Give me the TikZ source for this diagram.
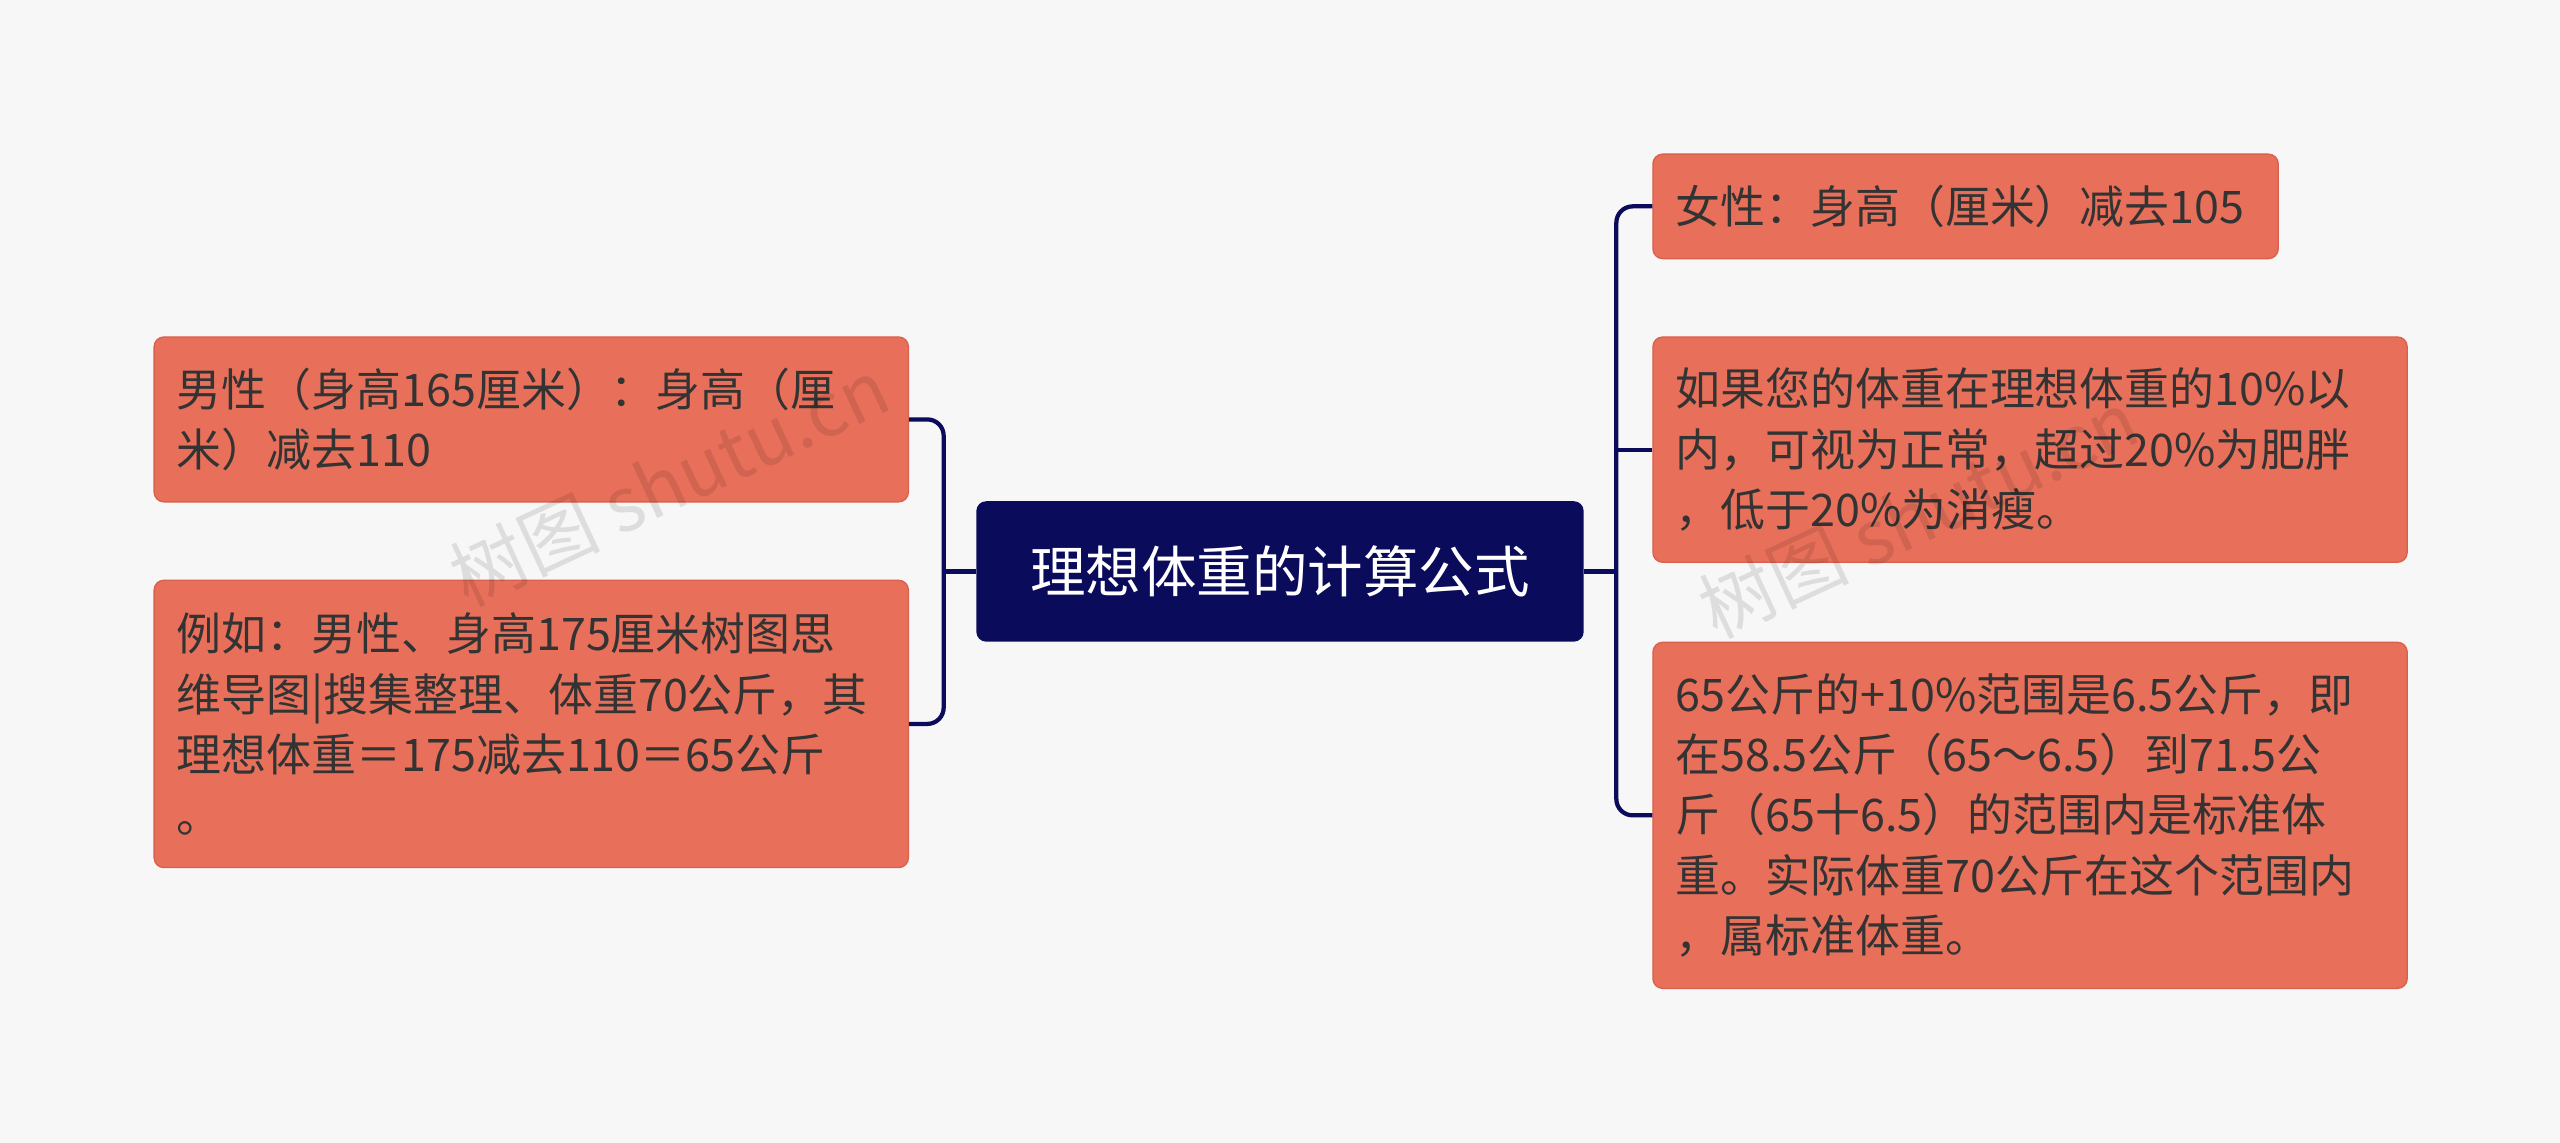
\documentclass[tikz,border=0pt]{standalone}
\usepackage{fontspec}
\setmainfont{Noto Sans CJK SC}
\definecolor{bg}{HTML}{F7F7F7}
\definecolor{boxc}{HTML}{E8705A}
\definecolor{boxd}{HTML}{D9604C}
\definecolor{navy}{HTML}{0B0B5C}
\definecolor{txt}{HTML}{333333}
\begin{document}
\begin{tikzpicture}[x=1pt,y=-1pt,
  bx/.style={draw=boxd,fill=boxc,rounded corners=6,line width=0.8pt,inner xsep=14pt,inner ysep=0pt,
    align=left,text=txt,font=\fontsize{27.5}{37}\selectfont,anchor=north west},
  ln/.style={draw=navy,line width=2.6pt,rounded corners=10},
  wm/.style={text=black,opacity=0.1,font=\fontsize{46}{46}\selectfont,rotate=25}]
\fill[bg] (0,0) rectangle (1568,700);
\useasboundingbox (0,0) rectangle (1568,700);
\node[fill=navy,rounded corners=6,text=white,font=\fontsize{34}{38}\selectfont,minimum width=372pt,minimum height=86pt] (c) at (784,350) {理想体重的计算公式};
\node[bx,minimum width=462pt,minimum height=101pt,text width=434pt] (L1) at (94,206) {男性（身高165厘米）：身高（厘\\米）减去110};
\node[bx,minimum width=462pt,minimum height=176pt,text width=434pt] (L2) at (94,355) {例如：男性、身高175厘米树图思\\维导图|搜集整理、体重70公斤，其\\理想体重＝175减去110＝65公斤\\。};
\node[bx,minimum width=383pt,minimum height=64pt,text width=355pt] (R1) at (1012,94) {女性：身高（厘米）减去105};
\node[bx,minimum width=462pt,minimum height=138pt,text width=434pt] (R2) at (1012,206) {如果您的体重在理想体重的10\%以\\内，可视为正常，超过20\%为肥胖\\，低于20\%为消瘦。};
\node[bx,minimum width=462pt,minimum height=212pt,text width=434pt] (R3) at (1012,393) {65公斤的+10\%范围是6.5公斤，即\\在58.5公斤（65～6.5）到71.5公\\斤（65十6.5）的范围内是标准体\\重。实际体重70公斤在这个范围内\\，属标准体重。};
\coordinate (cL) at (578,350);
\coordinate (cR) at (990,350);
\draw[ln] (L1.east) -| (cL) |- (L2.east);
\draw[ln] (c.west) -- (cL);
\draw[ln] (R1.west) -| (cR) |- (R3.west);
\draw[ln] (R2.west) -- (R2.west -| cR);
\draw[ln] (c.east) -- (cR);
\node[wm] (w1) at (410,295) {树图 shutu.cn};
\node[wm] (w2) at (1175,315) {树图 shutu.cn};
\end{tikzpicture}
\end{document}
